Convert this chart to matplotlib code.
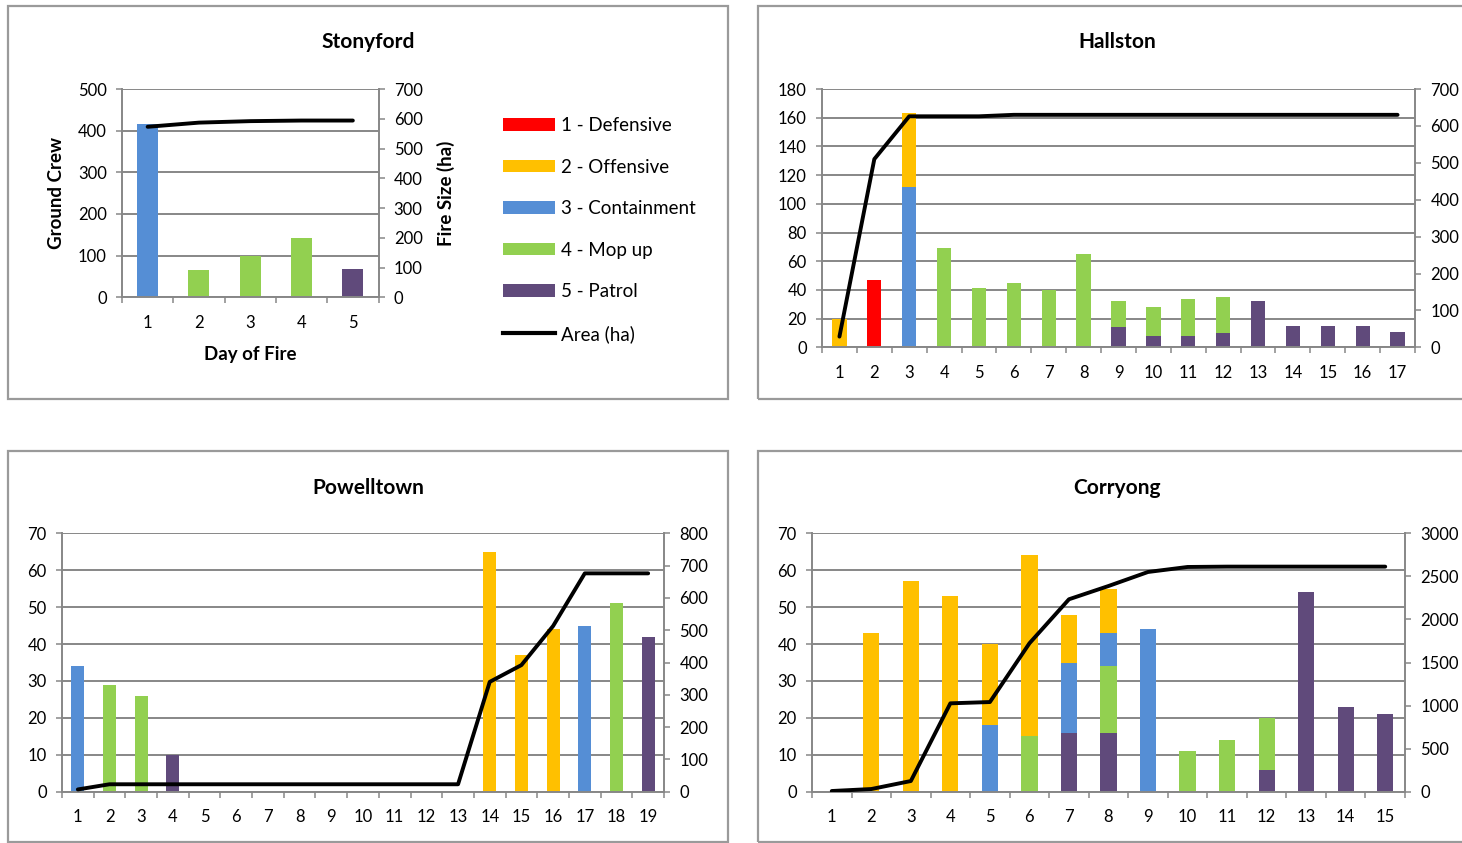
import matplotlib
matplotlib.use("Agg")
import matplotlib.pyplot as plt
from matplotlib.patches import Rectangle, Patch
from matplotlib.lines import Line2D
from matplotlib.ticker import FixedLocator, NullFormatter, FixedFormatter

plt.rcParams['font.family'] = ['Lato', 'DejaVu Sans']

W, H = 1462, 843

# Crew roles, stacked from the top down (defensive on top, patrol at the base)
ROLES = ["1 - Defensive", "2 - Offensive", "3 - Containment", "4 - Mop up", "5 - Patrol"]
ROLE_COLORS = ["#FF0000", "#FFC000", "#558ED5", "#92D050", "#604A7B"]
AREA_LABEL = "Area (ha)"

# ---- Stonyford ----
stony_days = [1, 2, 3, 4, 5]
stony_defensive = [0, 0, 0, 0, 0]
stony_offensive = [0, 0, 0, 0, 0]
stony_containment = [415, 0, 0, 0, 0]
stony_mopup = [0, 65, 99, 142, 0]
stony_patrol = [0, 0, 0, 0, 68]
stony_area = [573, 587, 592, 594, 594]

# ---- Hallston ----
hall_days = list(range(1, 18))
hall_defensive = [0, 47, 0, 0, 0, 0, 0, 0, 0, 0, 0, 0, 0, 0, 0, 0, 0]
hall_offensive = [20, 0, 51, 0, 0, 0, 0, 0, 0, 0, 0, 0, 0, 0, 0, 0, 0]
hall_containment = [0, 0, 112, 0, 0, 0, 0, 0, 0, 0, 0, 0, 0, 0, 0, 0, 0]
hall_mopup = [0, 0, 0, 69, 41, 45, 40, 65, 18, 20, 26, 25, 0, 0, 0, 0, 0]
hall_patrol = [0, 0, 0, 0, 0, 0, 0, 0, 14, 8, 8, 10, 32, 15, 15, 15, 11]
hall_area = [29, 510, 626, 626, 626, 630, 630, 630, 630, 630, 630, 630, 630, 630, 630, 630, 630]

# ---- Powelltown ----
powell_days = list(range(1, 20))
powell_defensive = [0] * 19
powell_offensive = [0, 0, 0, 0, 0, 0, 0, 0, 0, 0, 0, 0, 0, 65, 37, 44, 0, 0, 0]
powell_containment = [34, 0, 0, 0, 0, 0, 0, 0, 0, 0, 0, 0, 0, 0, 0, 0, 45, 0, 0]
powell_mopup = [0, 29, 26, 0, 0, 0, 0, 0, 0, 0, 0, 0, 0, 0, 0, 0, 0, 51, 0]
powell_patrol = [0, 0, 0, 10, 0, 0, 0, 0, 0, 0, 0, 0, 0, 0, 0, 0, 0, 0, 42]
powell_area = [7, 23, 23, 23, 23, 23, 23, 23, 23, 23, 23, 23, 23, 340, 392, 513, 676, 676, 676]

# ---- Corryong ----
corry_days = list(range(1, 16))
corry_defensive = [0] * 15
corry_offensive = [0, 43, 57, 53, 22, 49, 13, 12, 0, 0, 0, 0, 0, 0, 0]
corry_containment = [0, 0, 0, 0, 18, 0, 19, 9, 44, 0, 0, 0, 0, 0, 0]
corry_mopup = [0, 0, 0, 0, 0, 15, 0, 18, 0, 11, 14, 14, 0, 0, 0]
corry_patrol = [0, 0, 0, 0, 0, 0, 16, 16, 0, 0, 0, 6, 54, 23, 21]
corry_area = [8, 31, 124, 1026, 1041, 1723, 2234, 2388, 2551, 2609, 2613, 2613, 2613, 2613, 2613]

GRAY = "#878787"
BAR_W = 0.41
TICK_FS = 12

fig = plt.figure(figsize=(W / 100, H / 100), dpi=100)


def px_axes(left, top, right, bottom):
    return fig.add_axes([left / W, 1 - bottom / H, (right - left) / W, (bottom - top) / H])


def panel(box, days, stacks, area, ymax_l, step_l, ymax_r, step_r):
    ax = px_axes(*box)
    n = len(days)
    # stacked bars, patrol at the base
    base = [0] * n
    for vals, col in zip(reversed(stacks), reversed(ROLE_COLORS)):
        ax.bar(days, vals, width=BAR_W, bottom=base, color=col, zorder=2, linewidth=0)
        base = [b + v for b, v in zip(base, vals)]
    ax.set_xlim(0.5, n + 0.5)
    ax.set_ylim(0, ymax_l)
    ax.set_yticks(range(0, ymax_l + 1, step_l))
    ax.set_axisbelow(True)
    ax.yaxis.grid(True, color=GRAY, lw=1.4)
    ax.xaxis.set_major_locator(FixedLocator([d - 0.5 for d in days] + [n + 0.5]))
    ax.xaxis.set_major_formatter(NullFormatter())
    ax.xaxis.set_minor_locator(FixedLocator(days))
    ax.xaxis.set_minor_formatter(FixedFormatter([str(d) for d in days]))
    ax.tick_params(axis='x', which='major', length=4.5, width=1.1, color=GRAY, direction='out')
    ax.tick_params(axis='x', which='minor', length=0, pad=12.5, labelsize=TICK_FS)
    ax.tick_params(axis='y', length=4, width=1.1, color=GRAY, pad=7, labelsize=TICK_FS)
    for s in ('top', 'right'):
        ax.spines[s].set_visible(False)
    for s in ('left', 'bottom'):
        ax.spines[s].set_color(GRAY)
        ax.spines[s].set_linewidth(1.4)

    ax2 = ax.twinx()
    ax2.plot(days, area, color='black', lw=2.8, zorder=5, solid_capstyle='round')
    ax2.set_ylim(0, ymax_r)
    ax2.set_yticks(range(0, ymax_r + 1, step_r))
    ax2.tick_params(axis='y', length=4, width=1.1, color=GRAY, pad=7, labelsize=TICK_FS)
    for s in ('top', 'left', 'bottom'):
        ax2.spines[s].set_visible(False)
    ax2.spines['right'].set_color(GRAY)
    ax2.spines['right'].set_linewidth(1.4)
    return ax, ax2


def frame(x0, y0, x1, y1):
    fig.add_artist(Rectangle((x0 / W, 1 - y1 / H), (x1 - x0) / W, (y1 - y0) / H,
                             transform=fig.transFigure, fill=False,
                             edgecolor='#9A9A9A', lw=1.6))


frame(8, 6, 727.5, 399)
frame(758, 6, 1490, 399)
frame(8, 450.5, 727.5, 842)
frame(758, 450.5, 1490, 842)

title_kw = dict(ha='center', va='baseline', fontsize=15, fontweight='bold')
fig.text(368 / W, 1 - 48 / H, "Stonyford", **title_kw)
fig.text(1117 / W, 1 - 48 / H, "Hallston", **title_kw)
fig.text(368 / W, 1 - 494 / H, "Powelltown", **title_kw)
fig.text(1117 / W, 1 - 494 / H, "Corryong", **title_kw)

ax, ax2 = panel((122, 89, 378.5, 297.3), stony_days,
                [stony_defensive, stony_offensive, stony_containment, stony_mopup, stony_patrol],
                stony_area, 500, 100, 700, 100)
ax.set_ylabel("Ground Crew", fontsize=13.5, fontweight='bold', va='center')
ax.yaxis.set_label_coords((56 - 122) / 256.5, 0.5)
ax2.set_ylabel("Fire Size (ha)", fontsize=13.5, fontweight='bold', va='center')
ax2.yaxis.set_label_coords((446 - 122) / 256.5, 0.5)
ax.set_xlabel("Day of Fire", fontsize=13.5, fontweight='bold', va='center')
ax.xaxis.set_label_coords(0.5, (297.3 - 354) / 208.3)

panel((822, 89, 1415, 347.3), hall_days,
      [hall_defensive, hall_offensive, hall_containment, hall_mopup, hall_patrol],
      hall_area, 180, 20, 700, 100)
panel((62, 533.3, 664, 791.7), powell_days,
      [powell_defensive, powell_offensive, powell_containment, powell_mopup, powell_patrol],
      powell_area, 70, 10, 800, 100)
panel((812, 533.3, 1405, 791.7), corry_days,
      [corry_defensive, corry_offensive, corry_containment, corry_mopup, corry_patrol],
      corry_area, 70, 10, 3000, 500)

handles = [Patch(facecolor=c, edgecolor='none') for c in ROLE_COLORS]
handles.append(Line2D([0], [0], color='black', lw=3))
fig.legend(handles, ROLES + [AREA_LABEL], loc='upper left',
           bbox_to_anchor=(503 / W, 1 - 117 / H), frameon=False, fontsize=13.5,
           handlelength=2.8, handleheight=0.65, handletextpad=0.3,
           labelspacing=1.31, borderpad=0, borderaxespad=0)

fig.savefig("out.png", dpi=100)
